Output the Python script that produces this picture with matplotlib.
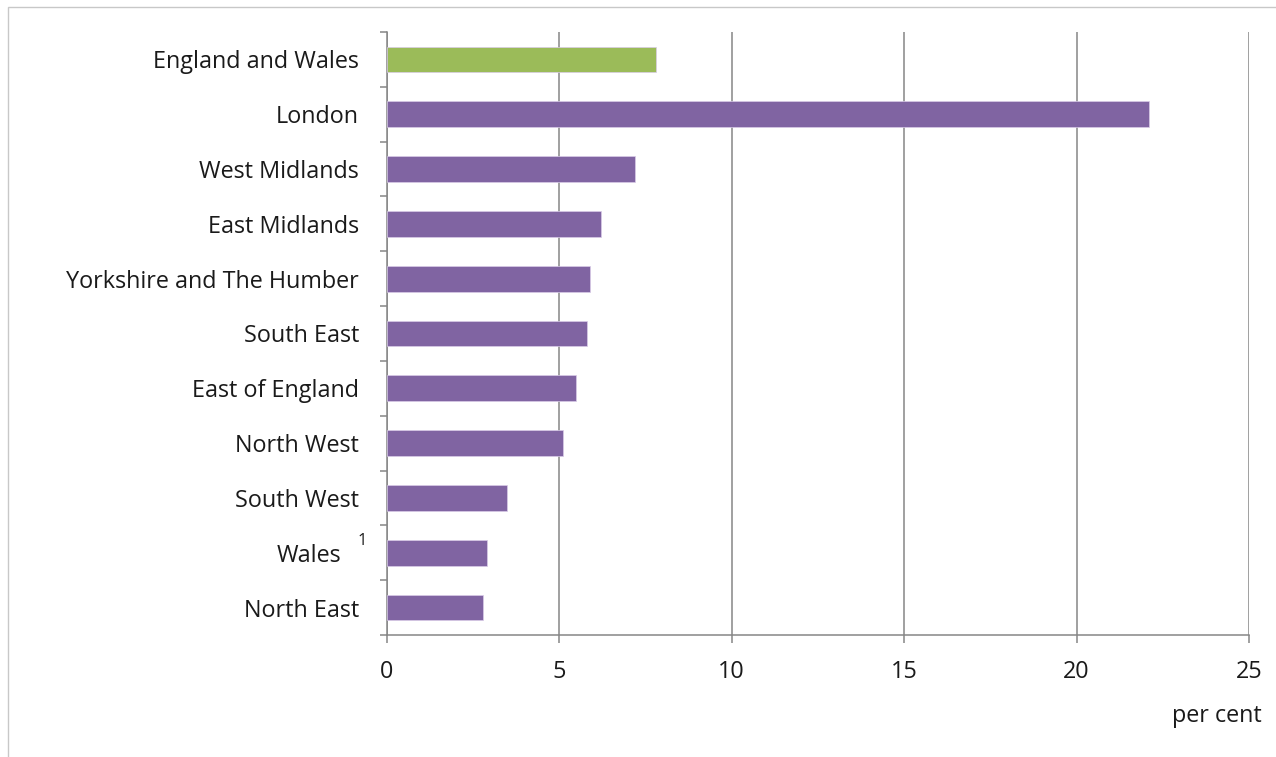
import numpy as np
import matplotlib.pyplot as plt
from matplotlib.patches import Rectangle
from matplotlib.transforms import ScaledTranslation

regions = ["England and Wales", "London", "West Midlands", "East Midlands",
           "Yorkshire and The Humber", "South East", "East of England",
           "North West", "South West", "Wales", "North East"]
percent = [7.8, 22.1, 7.2, 6.2, 5.9, 5.8, 5.5, 5.1, 3.5, 2.9, 2.8]
x_ticks = [0, 5, 10, 15, 20, 25]

purple = "#8064A2"
green = "#9BBB59"
grey = "#868686"
txt = "#1a1a1a"
fs = 16.8

plt.rcParams['font.family'] = ['Open Sans', 'DejaVu Sans']

fig = plt.figure(figsize=(12.76, 7.57), dpi=100)
ax = fig.add_axes([0.3031, 0.1612, 0.6757, 0.7965])

# outer chart frame
fig.patches.append(Rectangle((8 / 1276, -0.05), 1.1, (757 - 7) / 757 + 0.05,
                             transform=fig.transFigure, fill=False,
                             edgecolor="#C8C8C8", linewidth=1.0))

y = np.arange(len(regions))
colors = [green] + [purple] * (len(regions) - 1)
ax.barh(y, percent, height=0.47, color=colors, edgecolor="#D9CCE8", linewidth=0.5, zorder=3)

ax.set_xlim(0, 25)
ax.set_ylim(len(regions) - 0.5, -0.5)
ax.set_xticks(x_ticks)
ax.set_xticklabels([str(t) for t in x_ticks])
ax.set_yticks(y)
ax.set_yticklabels(regions)
ax.set_yticks(np.arange(-0.5, len(regions), 1), minor=True)

ax.xaxis.grid(True, color=grey, linewidth=1.1, zorder=0)
for s in ["top", "right"]:
    ax.spines[s].set_visible(False)
for s in ["left", "bottom"]:
    ax.spines[s].set_color(grey)
    ax.spines[s].set_linewidth(1.1)

ax.tick_params(axis="y", which="major", length=0, pad=20, labelsize=fs, labelcolor=txt)
ax.tick_params(axis="y", which="minor", length=5, width=1.1, color=grey, direction="out")
ax.tick_params(axis="x", length=6, width=1.1, color=grey, pad=12, labelsize=fs, labelcolor=txt)

# shift the Wales label left to leave room for its footnote marker
wales = ax.get_yticklabels()[regions.index("Wales")]
wales.set_transform(wales.get_transform() + ScaledTranslation(-0.18, 0, fig.dpi_scale_trans))
ax.annotate("1", xy=(0, regions.index("Wales")), xycoords=("axes fraction", "data"),
            xytext=(-25, 12), textcoords="offset pixels", ha="center", va="center",
            fontsize=12, color=txt)

fig.text(1262 / 1276, 1 - 716 / 757, "per cent", ha="right", va="center", fontsize=fs, color=txt)

fig.savefig("out.png", dpi=100)
